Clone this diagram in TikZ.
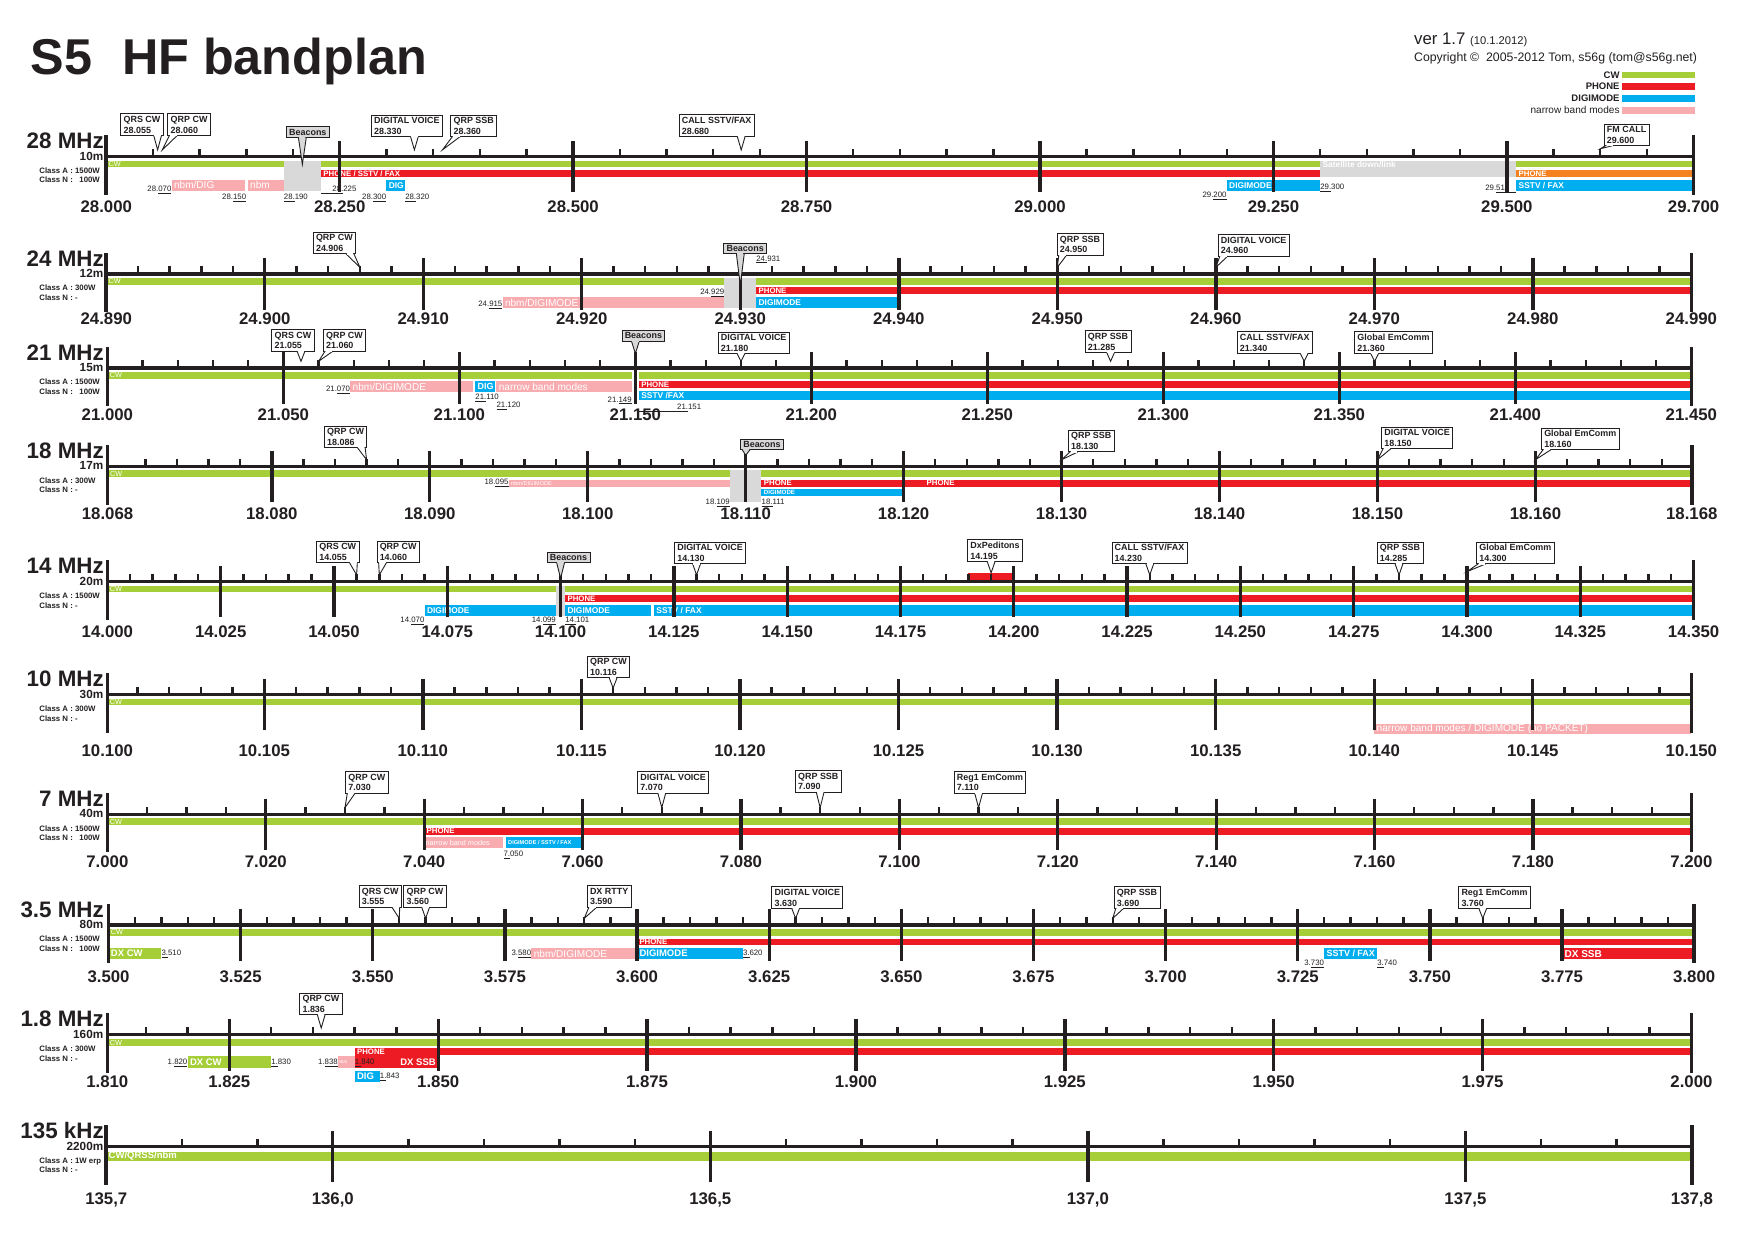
\documentclass[tikz,border=0pt]{standalone}
\usepackage{fontspec}
\setmainfont{Liberation Sans}
\usetikzlibrary{calc}
\definecolor{ink}{RGB}{35,31,32}
\definecolor{cwc}{RGB}{166,206,57}
\definecolor{phc}{RGB}{237,28,36}
\definecolor{dgc}{RGB}{0,174,239}
\definecolor{nbc}{RGB}{248,172,176}
\definecolor{grc}{RGB}{217,217,217}
\definecolor{orc}{RGB}{245,130,32}
\newcommand\fsz[2]{\fontsize{#1}{#2}\selectfont}
\newcount\autoid
\tikzset{
  autoname/.code={\global\advance\autoid by 1\relax\pgfkeysalso{name=auto\the\autoid}},
  axisline/.style={line width=3pt, draw=ink},
  majtick/.style={line width=3pt, draw=ink},
  endtick/.style={line width=3.2pt, draw=ink},
  mintick/.style={line width=2.2pt, draw=ink},
  bignum/.style={font=\bfseries\fsz{15}{17}, text=ink, inner sep=0pt},
  headname/.style={anchor=east, font=\bfseries\fsz{20}{22}, text=ink, inner sep=0pt},
  headm/.style={anchor=east, font=\bfseries\fsz{10.5}{12}, text=ink, inner sep=0pt},
  headcls/.style={anchor=north west, align=left, font=\bfseries\fsz{7}{8.5}, text=ink, inner sep=0pt},
  cbox/.style={draw=ink, line width=0.8pt, font=\bfseries\fsz{8}{9.5}, text=ink, align=left, inner xsep=2.5pt, inner ysep=2pt, outer sep=0pt},
  barlab/.style={autoname, anchor=west, xshift=2pt, inner sep=0pt, text=white, font=\bfseries\fsz{7}{8}},
  smallf/.style={autoname, font=\fsz{7}{8}, text=ink, inner sep=0pt},
}
\newcommand\bandhead[5]{%
  \node[headname] (#1n) at (93,-14) {#2};
  \node[headm] (#1m) at (92.5,-0.5) {#3};
  \node[headcls] (#1c) at (35,9.8) {Class A : #4\\Class N : #5};
}
\newcommand\minors[1]{\foreach \tk in {#1} \draw[mintick] (\tk,0) -- (\tk,-7);}
\newcommand\majors[3]{\foreach \tk/\lb [count=\i] in {#1} {\draw[majtick] (\tk,-14) -- (\tk,32); \node[bignum] (#3m\i) at (\tk,#2) {\lb};}}
\newcommand\bandaxis[6]{%
  \draw[axisline] (#1,0) -- (#2,0);
  \draw[endtick] (#1,-19) -- (#1,34);
  \draw[endtick] (#2,-19) -- (#2,34);
  \node[bignum] (#6l0) at (#1,#5) {#3};
  \node[bignum] (#6l1) at (#2,#5) {#4};
}
\newcommand\blab[4][]{\node[barlab,#1] at (#2,#3) {#4};}
\newcommand\lflab[4]{\node[smallf,anchor=west] at (#1,#2) {\underline{#3}#4};}
\newcommand\rflab[4]{\node[smallf,anchor=east] at (#1,#2) {#3\underline{#4}};}
\newcommand\callout[7][white]{%
  \coordinate (#2t) at (#3,#4);
  \node[cbox, fill=#1, anchor=south west] (#2) at ([xshift=#5pt,yshift=#6pt]#2t) {#7};
  \draw[draw=ink, line width=0.8pt, fill=#1, line join=miter]
    let \p1=(#2t), \p2=(#2.south west), \p3=(#2.south east),
        \n1={max(\x2+1.5pt,min(\x1-3.5pt,\x3-8.5pt))}
    in (\n1,\y2) -- (#2t) -- ({\n1+7pt},\y2);
  \draw[draw=#1, line width=1.3pt]
    let \p1=(#2t), \p2=(#2.south west), \p3=(#2.south east),
        \n1={max(\x2+1.5pt,min(\x1-3.5pt,\x3-8.5pt))}
    in ({\n1+0.7pt},\y2) -- ({\n1+6.3pt},\y2);
}
\begin{document}
\begin{tikzpicture}[x=1pt,y=-1pt]
\useasboundingbox (0,0) rectangle (1568,1109);
\fill[white] (0,0) rectangle (1568,1109);
% ---------------- header ----------------
\node[anchor=base west, inner sep=0pt, font=\bfseries\fsz{45}{50}, text=ink] (title) at (27,67) {S5\hspace{0.6em}HF bandplan};
\node[anchor=base west, inner sep=0pt, text=ink] (ver) at (1264,40) {\fsz{15}{17}ver 1.7 \fsz{10}{11}(10.1.2012)};
\node[anchor=base west, inner sep=0pt, text=ink, font=\fsz{11}{13}] (copy) at (1264,55) {Copyright \textcopyright\ \ 2005-2012 Tom, s56g (tom@s56g.net)};
\fill[cwc] (1450,64) rectangle (1515,70);
\fill[phc] (1450,74.5) rectangle (1515,80.5);
\fill[dgc] (1450,85) rectangle (1515,91);
\fill[nbc] (1450,95.5) rectangle (1515,101.5);
\node[anchor=east, inner sep=0pt, font=\bfseries\fsz{8.5}{9}, text=ink] (lgcw) at (1448,67) {CW};
\node[anchor=east, inner sep=0pt, font=\bfseries\fsz{8.5}{9}, text=ink] (lgph) at (1448,77.5) {PHONE};
\node[anchor=east, inner sep=0pt, font=\bfseries\fsz{8.5}{9}, text=ink] (lgdg) at (1448,88) {DIGIMODE};
\node[anchor=east, inner sep=0pt, font=\fsz{9}{10}, text=ink] (lgnb) at (1448,98.5) {narrow band modes};
% ---------------- 28 MHz ----------------
\begin{scope}[shift={(0,140)}]
 \bandhead{b10m}{28 MHz}{10m}{1500W}{\phantom{1}100W}
 \begin{scope}[shift={(95,0)}, x=0.83471pt]
  \fill[cwc] (0,3.5) rectangle (190,9.5);
  \fill[cwc] (230,3.5) rectangle (1300,9.5);
  \fill[cwc] (1510,3.5) rectangle (1700,9.5);
  \fill[grc] (190,3.5) rectangle (230,31);
  \fill[phc] (230,12) rectangle (1300,18);
  \fill[grc] (1300,3.5) rectangle (1510,18);
  \fill[orc] (1510,12) rectangle (1700,18);
  \fill[nbc] (70,20.5) rectangle (149,30.5);
  \fill[nbc] (151.5,20.5) rectangle (190,30.5);
  \fill[dgc] (300,20.5) rectangle (320,30.5);
  \fill[dgc] (1200,20.5) rectangle (1300,30.5);
  \fill[dgc] (1510,20.5) rectangle (1700,30.5);
  \blab[font=\fsz{6.5}{7}]{0}{6.5}{CW}
  \blab{230}{15}{PHONE / SSTV / FAX}
  \blab[font=\bfseries\fsz{7.5}{8}]{1300}{7.5}{Satellite down/link}
  \blab{1510}{15}{PHONE}
  \blab[font=\fsz{9}{10}]{70}{25.5}{nbm/DIG}
  \blab[font=\fsz{9}{10}]{151.5}{25.5}{nbm}
  \blab[font=\bfseries\fsz{7.5}{8}]{300}{25.5}{DIG}
  \blab[font=\bfseries\fsz{7.5}{8}]{1200}{25.5}{DIGIMODE}
  \blab[font=\bfseries\fsz{7.5}{8}]{1510}{25.5}{SSTV / FAX}
  \minors{50,100,...,1650}
  \majors{250/28.250,500/28.500,750/28.750,1000/29.000,1250/29.250,1500/29.500}{45}{b10m}
  \bandaxis{0}{1700}{28.000}{29.700}{45}{b10m}
  \rflab{70}{30}{28.}{070}
  \rflab{150}{37}{28.}{150}
  \lflab{190}{37}{28.}{190}
  \lflab{230}{30}{\hspace{10pt}28.}{225}
  \rflab{300}{37}{28.}{300}
  \lflab{320}{37}{28.}{320}
  \rflab{1200}{35}{29.}{200}
  \lflab{1300}{28}{29.}{300}
  \rflab{1510}{29}{29.}{510\hspace{6pt}}
  \callout{c10ma}{55}{-6}{-32.9}{13}{QRS CW\\28.055}
  \callout{c10mb}{60}{-6}{5}{13}{QRP CW\\28.060}
  \callout[grc]{c10mc}{210}{7}{-14.3}{24}{Beacons}
  \callout{c10md}{330}{-6}{-38.5}{12}{DIGITAL VOICE\\28.330}
  \callout{c10me}{360}{-6}{7.5}{12}{QRP SSB\\28.360}
  \callout{c10mf}{680}{-6}{-55.6}{12}{CALL SSTV/FAX\\28.680}
  \callout{c10mg}{1600}{-7}{3.5}{3}{FM CALL\\29.600}
 \end{scope}
\end{scope}
% ---------------- 24 MHz ----------------
\begin{scope}[shift={(0,245)}]
 \bandhead{b12m}{24 MHz}{12m}{300W}{-}
 \begin{scope}[shift={(95,0)}, x=14.17pt]
  \fill[cwc] (0,3.5) rectangle (39,9.5);
  \fill[cwc] (41,3.5) rectangle (100,9.5);
  \fill[grc] (39,3.5) rectangle (41,30.5);
  \fill[phc] (41,12) rectangle (100,18);
  \fill[dgc] (41,20.5) rectangle (50,30.5);
  \fill[nbc] (25,20.5) rectangle (39,30.5);
  \blab[font=\fsz{6.5}{7}]{0}{6.5}{CW}
  \blab{41}{15}{PHONE}
  \blab[font=\bfseries\fsz{7.5}{8}]{41}{25.5}{DIGIMODE}
  \blab[font=\fsz{9}{10}]{25}{25.5}{nbm/DIGIMODE}
  \minors{2,4,...,98}
  \majors{10/24.900,20/24.910,30/24.920,40/24.930,50/24.940,60/24.950,70/24.960,80/24.970,90/24.980}{40}{b12m}
  \bandaxis{0}{100}{24.890}{24.990}{40}{b12m}
  \rflab{25}{28}{24.}{915}
  \rflab{39}{17}{24.}{929}
  \lflab{41}{-13}{24.}{931}
  \callout{c12ma}{16}{-6}{-41.7}{12}{QRP CW\\24.906}
  \callout[grc]{c12mb}{40}{10}{-14.8}{28}{Beacons}
  \callout{c12mc}{60}{-6}{-0.2}{11}{QRP SSB\\24.950}
  \callout{c12md}{70}{-6}{2.1}{10}{DIGITAL VOICE\\24.960}
 \end{scope}
\end{scope}
% ---------------- 21 MHz ----------------
\begin{scope}[shift={(0,329)}]
 \bandhead{b15m}{21 MHz}{15m}{1500W}{\phantom{1}100W}
 \begin{scope}[shift={(96,0)}, x=3.1467pt]
  \fill[cwc] (0,3.5) rectangle (149,9.5);
  \fill[cwc] (151,3.5) rectangle (450,9.5);
  \fill[phc] (151,12) rectangle (450,18);
  \fill[dgc] (151,20.5) rectangle (450,29);
  \fill[nbc] (69,12) rectangle (104,21);
  \fill[dgc] (104.5,12) rectangle (110,21);
  \fill[nbc] (110.5,12) rectangle (149,21);
  \blab[font=\fsz{6.5}{7}]{0}{6.5}{CW}
  \blab{151}{15}{PHONE}
  \blab[font=\bfseries\fsz{7.5}{8}]{151}{25}{SSTV /FAX}
  \blab[font=\fsz{9}{10}]{69}{16.5}{nbm/DIGIMODE}
  \blab[font=\bfseries\fsz{8}{9}]{104.5}{16.5}{DIG}
  \blab[font=\fsz{9}{10}]{110.5}{16.5}{narrow band modes}
  \minors{10,20,...,440}
  \majors{50/21.050,100/21.100,150/21.150,200/21.200,250/21.250,300/21.300,350/21.350,400/21.400}{42}{b15m}
  \bandaxis{0}{450}{21.000}{21.450}{42}{b15m}
  \rflab{69}{20}{21.}{070}
  \lflab{104.5}{27}{21.}{110}
  \lflab{110.5}{34}{21.}{120}
  \rflab{149}{29}{21.}{149}
  \lflab{151}{36}{\hspace{34pt}21.}{151}
  \callout{c15ma}{55}{-6}{-26.1}{9}{QRS CW\\21.055}
  \callout{c15mb}{60}{-6}{4.2}{9}{QRP CW\\21.060}
  \callout[grc]{c15mc}{150}{-13}{-12}{11}{Beacons}
  \callout{c15md}{180}{-6}{-20.4}{7}{DIGITAL VOICE\\21.180}
  \callout{c15me}{285}{-6}{-22.8}{8}{QRP SSB\\21.285}
  \callout{c15mf}{340}{-6}{-59.9}{7}{CALL SSTV/FAX\\21.340}
  \callout{c15mg}{360}{-6}{-17.8}{7}{Global EmComm\\21.360}
 \end{scope}
\end{scope}
% ---------------- 18 MHz ----------------
\begin{scope}[shift={(0,417)}]
 \bandhead{b17m}{18 MHz}{17m}{300W}{-}
 \begin{scope}[shift={(243,0)}, x=14.12pt]
  \fill[cwc] (-10.4,3.5) rectangle (29,9.5);
  \fill[cwc] (31,3.5) rectangle (89.9,9.5);
  \fill[grc] (29,3.5) rectangle (31,31.5);
  \fill[phc] (31,12) rectangle (89.9,18);
  \fill[dgc] (31,20.5) rectangle (40,26);
  \fill[nbc] (15,12) rectangle (29,18);
  \blab[font=\fsz{6.5}{7}]{-10.4}{6.5}{CW}
  \blab{31}{15}{PHONE}
  \blab{41.3}{15}{PHONE}
  \blab[font=\bfseries\fsz{5.5}{6}]{31}{23.25}{DIGIMODE}
  \blab[font=\fsz{5}{6}]{15}{15}{nbm/DIGIMODE}
  \minors{-8,-6,...,88}
  \majors{0/18.080,10/18.090,20/18.100,30/18.110,40/18.120,50/18.130,60/18.140,70/18.150,80/18.160}{42}{b17m}
  \bandaxis{-10.4}{89.9}{18.068}{18.168}{42}{b17m}
  \rflab{15}{15}{18.}{095}
  \rflab{29}{33}{18.}{109}
  \lflab{31}{33}{18.}{111}
  \callout{c17ma}{6}{-6}{-37.7}{11}{QRP CW\\18.086}
  \callout[grc]{c17mb}{30}{-10}{-4.6}{5}{Beacons}
  \callout{c17mc}{50}{-6}{6}{7}{QRP SSB\\18.130}
  \callout{c17md}{70}{-6}{3.6}{10}{DIGITAL VOICE\\18.150}
  \callout{c17me}{80}{-6}{5.4}{9}{Global EmComm\\18.160}
 \end{scope}
\end{scope}
% ---------------- 14 MHz ----------------
\begin{scope}[shift={(0,520)}]
 \bandhead{b20m}{14 MHz}{20m}{1500W}{-}
 \begin{scope}[shift={(96,0)}, x=4.0514pt]
  \fill[cwc] (0,3.5) rectangle (99,9.5);
  \fill[cwc] (101,3.5) rectangle (350,9.5);
  \fill[grc] (99,3.5) rectangle (101,31);
  \fill[phc] (101,12) rectangle (350,18);
  \fill[dgc] (70,20.5) rectangle (99,31);
  \fill[dgc] (101,20.5) rectangle (120,31);
  \fill[dgc] (120.6,20.5) rectangle (350,31);
  \fill[phc] (190,-8) rectangle (200,-1.5);
  \blab[font=\fsz{6.5}{7}]{0}{6.5}{CW}
  \blab{101}{15}{PHONE}
  \blab[font=\bfseries\fsz{7.5}{8}]{70}{25.75}{DIGIMODE}
  \blab[font=\bfseries\fsz{7.5}{8}]{101}{25.75}{DIGIMODE}
  \blab[font=\bfseries\fsz{7.5}{8}]{120.6}{25.75}{SSTV / FAX}
  \minors{5,10,...,345}
  \majors{25/14.025,50/14.050,75/14.075,100/14.100,125/14.125,150/14.150,175/14.175,200/14.200,225/14.225,250/14.250,275/14.275,300/14.300,325/14.325}{45}{b20m}
  \bandaxis{0}{350}{14.000}{14.350}{45}{b20m}
  \rflab{70}{35}{14.}{070}
  \rflab{99}{35}{14.}{099}
  \lflab{101}{35}{14.}{101}
  \callout{c20ma}{55}{-6}{-35.8}{11}{QRS CW\\14.055}
  \callout{c20mb}{60}{-6}{-2.1}{11}{QRP CW\\14.060}
  \callout[grc]{c20mc}{100}{-3}{-12.1}{14}{Beacons}
  \callout{c20md}{130}{-6}{-19.7}{10}{DIGITAL VOICE\\14.130}
  \callout{c20me}{195}{-8}{-21}{10}{DxPeditons\\14.195}
  \callout{c20mf}{230}{-6}{-33.8}{10}{CALL SSTV/FAX\\14.230}
  \callout{c20mg}{285}{-6}{-19.6}{10}{QRP SSB\\14.285}
  \callout{c20mh}{300}{-9}{8.5}{7}{Global EmComm\\14.300}
 \end{scope}
\end{scope}
% ---------------- 10 MHz ----------------
\begin{scope}[shift={(0,621)}]
 \bandhead{b30m}{10 MHz}{30m}{300W}{-}
 \begin{scope}[shift={(94.5,0)}, x=28.35pt]
  \fill[cwc] (0.05,3.5) rectangle (50,9.5);
  \fill[nbc] (40,26) rectangle (50,35);
  \blab[font=\fsz{6.5}{7}]{0.05}{6.5}{CW}
  \blab[font=\fsz{9}{10}]{40}{30.5}{narrow band modes / DIGIMODE (no PACKET)}
  \minors{1,...,49}
  \majors{5/10.105,10/10.110,15/10.115,20/10.120,25/10.125,30/10.130,35/10.135,40/10.140,45/10.145}{50}{b30m}
  \bandaxis{0.05}{50}{10.100}{10.150}{50}{b30m}
  \callout{c30ma}{16}{-6}{-23.1}{9}{QRP CW\\10.116}
 \end{scope}
\end{scope}
% ---------------- 7 MHz ----------------
\begin{scope}[shift={(0,728)}]
 \bandhead{b40m}{7 MHz}{40m}{1500W}{\phantom{1}100W}
 \begin{scope}[shift={(96,0)}, x=7.08pt]
  \fill[cwc] (0,3.5) rectangle (200,9.5);
  \fill[phc] (40,12) rectangle (200,18);
  \fill[nbc] (40,20.5) rectangle (50,30.5);
  \fill[dgc] (50.3,20.5) rectangle (60,30.5);
  \blab[font=\fsz{6.5}{7}]{0}{6.5}{CW}
  \blab{40}{15}{PHONE}
  \blab[font=\fsz{6.5}{7},xshift=-1pt]{40}{25.5}{narrow band modes}
  \blab[font=\bfseries\fsz{5}{6}]{50.3}{25.5}{DIGIMODE / SSTV / FAX}
  \minors{5,10,...,195}
  \majors{20/7.020,40/7.040,60/7.060,80/7.080,100/7.100,120/7.120,140/7.140,160/7.160,180/7.180}{42}{b40m}
  \bandaxis{0}{200}{7.000}{7.200}{42}{b40m}
  \lflab{50}{36}{7.}{050}
  \callout{c40ma}{30}{-6}{0.6}{13}{QRP CW\\7.030}
  \callout{c40mb}{70}{-6}{-21.6}{13}{DIGITAL VOICE\\7.070}
  \callout{c40mc}{90}{-6}{-22.2}{14}{QRP SSB\\7.090}
  \callout{c40md}{110}{-6}{-21.8}{13}{Reg1 EmComm\\7.110}
 \end{scope}
\end{scope}
% ---------------- 3.5 MHz ----------------
\begin{scope}[shift={(0,827)}]
 \bandhead{b80m}{3.5 MHz}{80m}{1500W}{\phantom{1}100W}
 \begin{scope}[shift={(97,0)}, x=4.725pt]
  \fill[cwc] (0,3.5) rectangle (300,9.5);
  \fill[phc] (100,12) rectangle (300,18);
  \fill[cwc] (0,20.5) rectangle (10,30.5);
  \fill[nbc] (80,20.5) rectangle (100,30.5);
  \fill[dgc] (100,20.5) rectangle (120,30.5);
  \fill[dgc] (230,20.5) rectangle (240,30.5);
  \fill[phc] (275,20.5) rectangle (300,30.5);
  \blab[font=\fsz{6.5}{7}]{0}{6.5}{CW}
  \blab{100}{15}{PHONE}
  \blab[font=\bfseries\fsz{8.5}{9}]{0}{25.5}{DX CW}
  \blab[font=\fsz{9}{10}]{80}{25.5}{nbm/DIGIMODE}
  \blab[font=\bfseries\fsz{8.5}{9}]{100}{25.5}{DIGIMODE}
  \blab[font=\bfseries\fsz{8}{9}]{230}{25.5}{SSTV / FAX}
  \blab[font=\bfseries\fsz{9}{10}]{275}{25.5}{DX SSB}
  \minors{5,10,...,295}
  \majors{25/3.525,50/3.550,75/3.575,100/3.600,125/3.625,150/3.650,175/3.675,200/3.700,225/3.725,250/3.750,275/3.775}{46}{b80m}
  \bandaxis{0}{300}{3.500}{3.800}{46}{b80m}
  \lflab{10}{25.5}{3.}{510}
  \rflab{80}{25.5}{3.}{580}
  \lflab{120}{25.5}{3.}{620}
  \rflab{230}{35}{3.}{730}
  \lflab{240}{35}{3.}{740}
  \callout{c80ma}{55}{-6}{-35.9}{10}{QRS CW\\3.555}
  \callout{c80mb}{60}{-6}{-19.5}{10}{QRP CW\\3.560}
  \callout{c80mc}{90}{-6}{2.7}{10}{DX RTTY\\3.590}
  \callout{c80md}{130}{-6}{-21.3}{9}{DIGITAL VOICE\\3.630}
  \callout{c80me}{190}{-6}{1.2}{9}{QRP SSB\\3.690}
  \callout{c80mf}{260}{-6}{-21.5}{9}{Reg1 EmComm\\3.760}
 \end{scope}
\end{scope}
% ---------------- 1.8 MHz ----------------
\begin{scope}[shift={(0,925)}]
 \bandhead{b160m}{1.8 MHz}{160m}{300W}{-}
 \begin{scope}[shift={(205,0)}, x=7.469pt]
  \fill[cwc] (-14.6,4) rectangle (175,10);
  \fill[phc] (15,12) rectangle (175,18);
  \fill[cwc] (-5,19) rectangle (5,30);
  \fill[nbc] (13,19) rectangle (15,30);
  \fill[phc] (15,18) rectangle (25,30);
  \fill[dgc] (15,32) rectangle (18,42);
  \blab[font=\fsz{6.5}{7}]{-14.6}{7}{CW}
  \blab{15}{15}{PHONE}
  \blab[font=\bfseries\fsz{8.5}{9}]{-5}{24.5}{DX CW}
  \blab[font=\fsz{4}{5},xshift=-1.5pt]{13}{24.5}{nbm}
  \blab[font=\bfseries\fsz{8.5}{9},anchor=east,xshift=-4pt]{25}{24.5}{DX SSB}
  \blab[font=\bfseries\fsz{8.5}{9}]{15}{37}{DIG}
  \minors{-10,-5,...,170}
  \majors{0/1.825,25/1.850,50/1.875,75/1.900,100/1.925,125/1.950,150/1.975}{42}{b160m}
  \bandaxis{-14.6}{175}{1.810}{2.000}{42}{b160m}
  \rflab{-5}{25}{1.}{820}
  \lflab{5}{25}{1.}{830}
  \rflab{13}{25}{1.}{838}
  \lflab{15}{25}{1.}{840}
  \lflab{18}{38}{1.}{843}
  \callout{c160ma}{11}{-6}{-19.2}{12}{QRP CW\\1.836}
 \end{scope}
\end{scope}
% ---------------- 135 kHz ----------------
\begin{scope}[shift={(0,1025)}]
 \bandhead{b2200m}{135 kHz}{2200m}{1W erp}{-}
 \begin{scope}[shift={(95,0)}, x=67.5pt]
  \fill[cwc] (0,4.5) rectangle (21,12.5);
  \blab[font=\bfseries\fsz{8.5}{9}]{0}{8.5}{CW/QRSS/nbm}
  \minors{1,...,20}
  \majors{3/{136,0},8/{136,5},13/{137,0},18/{137,5}}{48}{b2200m}
  \bandaxis{0}{21}{135,7}{137,8}{48}{b2200m}
 \end{scope}
\end{scope}
\end{tikzpicture}
\end{document}
